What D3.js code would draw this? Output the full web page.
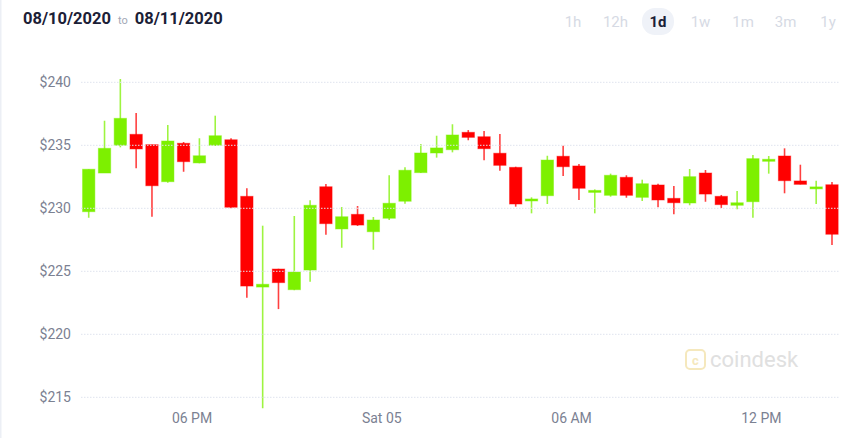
<!DOCTYPE html>
<html>
<head>
<meta charset="utf-8">
<script src="https://cdn.jsdelivr.net/npm/d3@7"></script>
<style>
  body { margin: 0; background: #fff; }
  svg { display: block; font-family: Roboto, "Liberation Sans", Arial, sans-serif; }
</style>
</head>
<body>
<div id="chart"></div>
<script>
// half-hour candles, first one starts 14:30
var opens  = [229.73, 232.8, 235.0, 235.87, 235.05, 232.11, 235.16, 233.6, 235.0, 235.44, 230.95, 223.75,
              225.18, 223.54, 225.1, 231.71, 228.36, 229.52, 228.14, 229.21, 230.56, 232.83, 234.39, 234.65,
              236.03, 235.68, 234.37, 233.25, 230.58, 231.0, 234.13, 233.36, 231.35, 231.03, 232.46, 230.87,
              231.85, 230.79, 230.42, 232.8, 230.95, 230.24, 230.52, 233.73, 234.15, 232.17, 231.62, 231.87]
var closes = [233.1, 234.76, 237.14, 234.71, 231.79, 235.34, 233.7, 234.17, 235.76, 230.08, 223.83, 223.97,
              224.1, 224.94, 230.24, 228.78, 229.33, 228.67, 229.07, 230.4, 233.02, 234.39, 234.79, 235.82,
              235.63, 234.73, 233.41, 230.34, 230.74, 233.83, 233.3, 231.59, 231.42, 232.62, 231.03, 231.95,
              230.66, 230.44, 232.51, 231.13, 230.29, 230.44, 233.94, 233.89, 232.19, 231.9, 231.7, 227.94]
var highs  = [233.1, 236.95, 240.26, 237.56, 235.05, 236.61, 235.26, 235.56, 237.35, 235.56, 231.59, 228.62,
              225.2, 229.39, 230.63, 231.93, 230.1, 230.18, 229.31, 232.62, 233.25, 235.1, 235.76, 236.67,
              236.21, 236.13, 235.9, 233.3, 230.87, 234.17, 234.97, 233.52, 231.5, 232.75, 232.62, 232.27,
              231.95, 231.77, 233.12, 233.04, 231.06, 231.37, 234.23, 234.15, 234.76, 233.46, 232.19, 232.09]
var lows   = [229.25, 232.8, 234.84, 233.17, 229.33, 232.03, 232.9, 233.57, 234.95, 230.0, 222.9, 214.13,
              222.0, 223.5, 224.17, 227.9, 226.87, 228.6, 226.71, 229.07, 230.37, 232.8, 234.02, 234.44,
              235.4, 233.81, 232.98, 230.13, 229.6, 230.34, 232.56, 230.66, 229.6, 230.92, 230.84, 230.58,
              230.08, 229.52, 230.24, 230.52, 230.02, 229.92, 229.25, 232.75, 231.19, 231.9, 230.34, 227.09]

var priceTicks = [215, 220, 225, 230, 235, 240]
var timeTickLabels = ["06 PM", "Sat 05", "06 AM", "12 PM"]
var timeTicks = [new Date(2020, 8, 4, 18), new Date(2020, 8, 5, 0), new Date(2020, 8, 5, 6), new Date(2020, 8, 5, 12)]
var ranges = ["1h", "12h", "1d", "1w", "1m", "3m", "1y"]

var width = 864, height = 438
var start = new Date(2020, 8, 4, 14, 30)
var halfHour = 30 * 60 * 1000

var candles = opens.map(function(o, i) {
    return { t: new Date(+start + i * halfHour), o: o, c: closes[i], h: highs[i], l: lows[i] }
})

var x = d3.scaleTime()
    .domain([start, new Date(+start + candles.length * halfHour)])
    .range([80.8, 839.9])

var y = d3.scaleLinear()
    .domain([215, 240])
    .range([397.3, 82.3])

var step = x(new Date(+start + halfHour)) - x(start)
var bodyW = step * 0.78

var green = "#7df000", red = "#ff0000"

var svg = d3.select("#chart").append("svg")
    .attr("width", width)
    .attr("height", height)

// card edge on the left
svg.append("line")
    .attr("x1", 0.5).attr("x2", 0.5)
    .attr("y1", 0).attr("y2", height)
    .attr("stroke", "#eceff5")
    .attr("stroke-width", 2)

// header
var head = svg.append("text").attr("x", 23).attr("y", 24)
    .attr("font-size", 16.5).attr("font-weight", "bold").attr("fill", "#1b2036")
head.append("tspan").text("08/10/2020")
head.append("tspan").attr("font-size", 11).attr("font-weight", "normal").attr("fill", "#a3a8b6")
    .attr("dx", 7).text("to")
head.append("tspan").attr("dx", 7).text("08/11/2020")

var rangeX = d3.scalePoint().domain(ranges).range([573, 828])
svg.append("rect")
    .attr("x", rangeX("1d") - 16).attr("y", 8)
    .attr("width", 32).attr("height", 27).attr("rx", 13)
    .attr("fill", "#eff2f8")
svg.selectAll(".range").data(ranges).enter().append("text")
    .attr("class", "range")
    .attr("x", function(d) { return rangeX(d) })
    .attr("y", 27)
    .attr("text-anchor", "middle")
    .attr("font-size", 15)
    .attr("font-weight", function(d) { return d == "1d" ? "bold" : "normal" })
    .attr("fill", function(d) { return d == "1d" ? "#1b2036" : "#d6dae4" })
    .text(function(d) { return d })

// watermark
var wm = svg.append("g").attr("transform", "translate(685,349)")
wm.append("rect").attr("x", 1).attr("y", 1).attr("width", 19).attr("height", 19).attr("rx", 4)
    .attr("fill", "none").attr("stroke", "#f5e8bd").attr("stroke-width", 2)
wm.append("text").attr("x", 10.5).attr("y", 15.5).attr("text-anchor", "middle")
    .attr("font-size", 13).attr("font-weight", "bold").attr("fill", "#f5e8bd").text("c")
wm.append("text").attr("x", 25).attr("y", 18)
    .attr("font-size", 22).attr("fill", "#e0e0e0").text("coindesk")

// y labels
svg.selectAll(".ylab").data(priceTicks).enter().append("text")
    .attr("class", "ylab")
    .attr("x", 71)
    .attr("y", function(d) { return y(d) + 5 })
    .attr("text-anchor", "end")
    .attr("font-size", 14)
    .attr("fill", "#7b8192")
    .text(function(d) { return "$" + d })

// x axis labels
var xAxis = d3.axisBottom(x)
    .tickValues(timeTicks)
    .tickSize(0)
    .tickFormat(function(d, i) { return timeTickLabels[i] })
var gx = svg.append("g").attr("transform", "translate(0,410)").call(xAxis)
gx.select(".domain").remove()
gx.selectAll("text").attr("font-size", 14).attr("fill", "#7b8192")
    .attr("font-family", "Roboto, 'Liberation Sans', Arial, sans-serif")

// candles
var c = svg.selectAll(".candle").data(candles).enter().append("g").attr("class", "candle")
function colour(d) { return d.c >= d.o ? green : red }
function cx(d) { return x(new Date(+d.t + halfHour / 2)) }

c.append("line")
    .attr("x1", cx).attr("x2", cx)
    .attr("y1", function(d) { return y(d.h) })
    .attr("y2", function(d) { return y(d.l) })
    .attr("stroke", colour)
    .attr("stroke-opacity", 0.75)
    .attr("stroke-width", 1.6)

c.append("rect")
    .attr("x", function(d) { return cx(d) - bodyW / 2 })
    .attr("y", function(d) { return y(Math.max(d.o, d.c)) })
    .attr("width", bodyW)
    .attr("height", function(d) { return Math.max(2, Math.abs(y(d.o) - y(d.c))) })
    .attr("fill", colour)
    .attr("stroke", colour)
    .attr("stroke-opacity", 0.45)
    .attr("stroke-width", 1)

// grid drawn over the candles
svg.selectAll(".grid").data(priceTicks).enter().append("line")
    .attr("class", "grid")
    .attr("x1", 81).attr("x2", 840)
    .attr("y1", function(d) { return y(d) })
    .attr("y2", function(d) { return y(d) })
    .attr("stroke", "#dfe3ee")
    .attr("stroke-width", 1)
    .attr("stroke-dasharray", "1.5,1.5")
</script>
</body>
</html>
